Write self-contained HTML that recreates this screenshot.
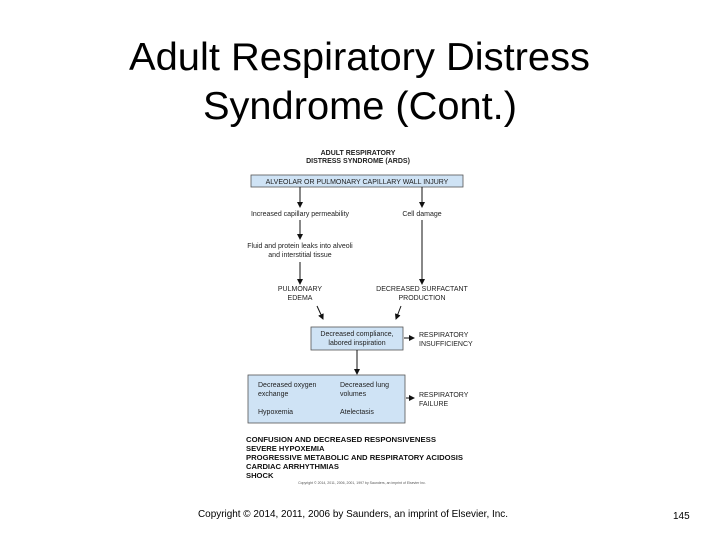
<!DOCTYPE html>
<html><head><meta charset="utf-8"><style>
html,body{margin:0;padding:0;background:#fff;width:720px;height:540px;overflow:hidden}
svg{display:block}
</style></head><body>
<svg width="720" height="540" xmlns="http://www.w3.org/2000/svg" font-family="Liberation Sans, Arial, sans-serif">
<defs><marker id="a" markerWidth="6" markerHeight="6" refX="5" refY="3" orient="auto" markerUnits="userSpaceOnUse"><path d="M0,0 L6,3 L0,6 z" fill="#111"/></marker></defs>
<text x="129" y="70" font-size="39" textLength="461" lengthAdjust="spacingAndGlyphs" fill="#000">Adult Respiratory Distress</text>
<text x="203" y="119" font-size="39" textLength="314" lengthAdjust="spacingAndGlyphs" fill="#000">Syndrome (Cont.)</text>

<g font-size="7" fill="#222" text-anchor="middle">
<text x="358" y="155" font-weight="bold">ADULT RESPIRATORY</text>
<text x="358" y="163" font-weight="bold">DISTRESS SYNDROME (ARDS)</text>
<rect x="251" y="175" width="212" height="12" fill="#cfe3f5" stroke="#555" stroke-width="0.8"/>
<text x="357" y="184">ALVEOLAR OR PULMONARY CAPILLARY WALL INJURY</text>
<line x1="300" y1="187" x2="300" y2="207" stroke="#111" stroke-width="1" marker-end="url(#a)"/>
<line x1="422" y1="187" x2="422" y2="207" stroke="#111" stroke-width="1" marker-end="url(#a)"/>
<text x="300" y="216">Increased capillary permeability</text>
<text x="422" y="216">Cell damage</text>
<line x1="300" y1="220" x2="300" y2="239" stroke="#111" stroke-width="1" marker-end="url(#a)"/>
<line x1="422" y1="220" x2="422" y2="284" stroke="#111" stroke-width="1" marker-end="url(#a)"/>
<text x="300" y="248">Fluid and protein leaks into alveoli</text>
<text x="300" y="257">and interstitial tissue</text>
<line x1="300" y1="262" x2="300" y2="284" stroke="#111" stroke-width="1" marker-end="url(#a)"/>
<text x="300" y="291">PULMONARY</text>
<text x="300" y="300">EDEMA</text>
<text x="422" y="291">DECREASED SURFACTANT</text>
<text x="422" y="300">PRODUCTION</text>
<line x1="317" y1="306" x2="323" y2="319" stroke="#111" stroke-width="1" marker-end="url(#a)"/>
<line x1="401" y1="306" x2="396" y2="319" stroke="#111" stroke-width="1" marker-end="url(#a)"/>
<rect x="311" y="327" width="92" height="23" fill="#cfe3f5" stroke="#555" stroke-width="0.8"/>
<text x="357" y="336">Decreased compliance,</text>
<text x="357" y="345">labored inspiration</text>
<line x1="404" y1="338" x2="414" y2="338" stroke="#111" stroke-width="1" marker-end="url(#a)"/>
<line x1="357" y1="350" x2="357" y2="374" stroke="#111" stroke-width="1" marker-end="url(#a)"/>
<rect x="248" y="375" width="157" height="48" fill="#cfe3f5" stroke="#555" stroke-width="0.8"/>
<line x1="406" y1="398" x2="414" y2="398" stroke="#111" stroke-width="1" marker-end="url(#a)"/>
</g>
<g font-size="7" fill="#222">
<text x="419" y="337">RESPIRATORY</text>
<text x="419" y="346">INSUFFICIENCY</text>
<text x="419" y="397">RESPIRATORY</text>
<text x="419" y="406">FAILURE</text>
<text x="258" y="387">Decreased oxygen</text>
<text x="258" y="396">exchange</text>
<text x="258" y="414">Hypoxemia</text>
<text x="340" y="387">Decreased lung</text>
<text x="340" y="396">volumes</text>
<text x="340" y="414">Atelectasis</text>
</g>
<g font-size="7.6" font-weight="bold" fill="#111">
<text x="246" y="442" textLength="190" lengthAdjust="spacingAndGlyphs">CONFUSION AND DECREASED RESPONSIVENESS</text>
<text x="246" y="451">SEVERE HYPOXEMIA</text>
<text x="246" y="460" textLength="217" lengthAdjust="spacingAndGlyphs">PROGRESSIVE METABOLIC AND RESPIRATORY ACIDOSIS</text>
<text x="246" y="469">CARDIAC ARRHYTHMIAS</text>
<text x="246" y="478">SHOCK</text>
</g>
<text x="362" y="484" font-size="3.5" fill="#555" text-anchor="middle">Copyright © 2014, 2011, 2006, 2001, 1997 by Saunders, an imprint of Elsevier Inc.</text>
<text x="198" y="517" font-size="10.5" textLength="310" lengthAdjust="spacingAndGlyphs" fill="#000">Copyright © 2014, 2011, 2006 by Saunders, an imprint of Elsevier, Inc.</text>
<text x="673" y="519" font-size="10" fill="#000">145</text>
</svg>
</body></html>
